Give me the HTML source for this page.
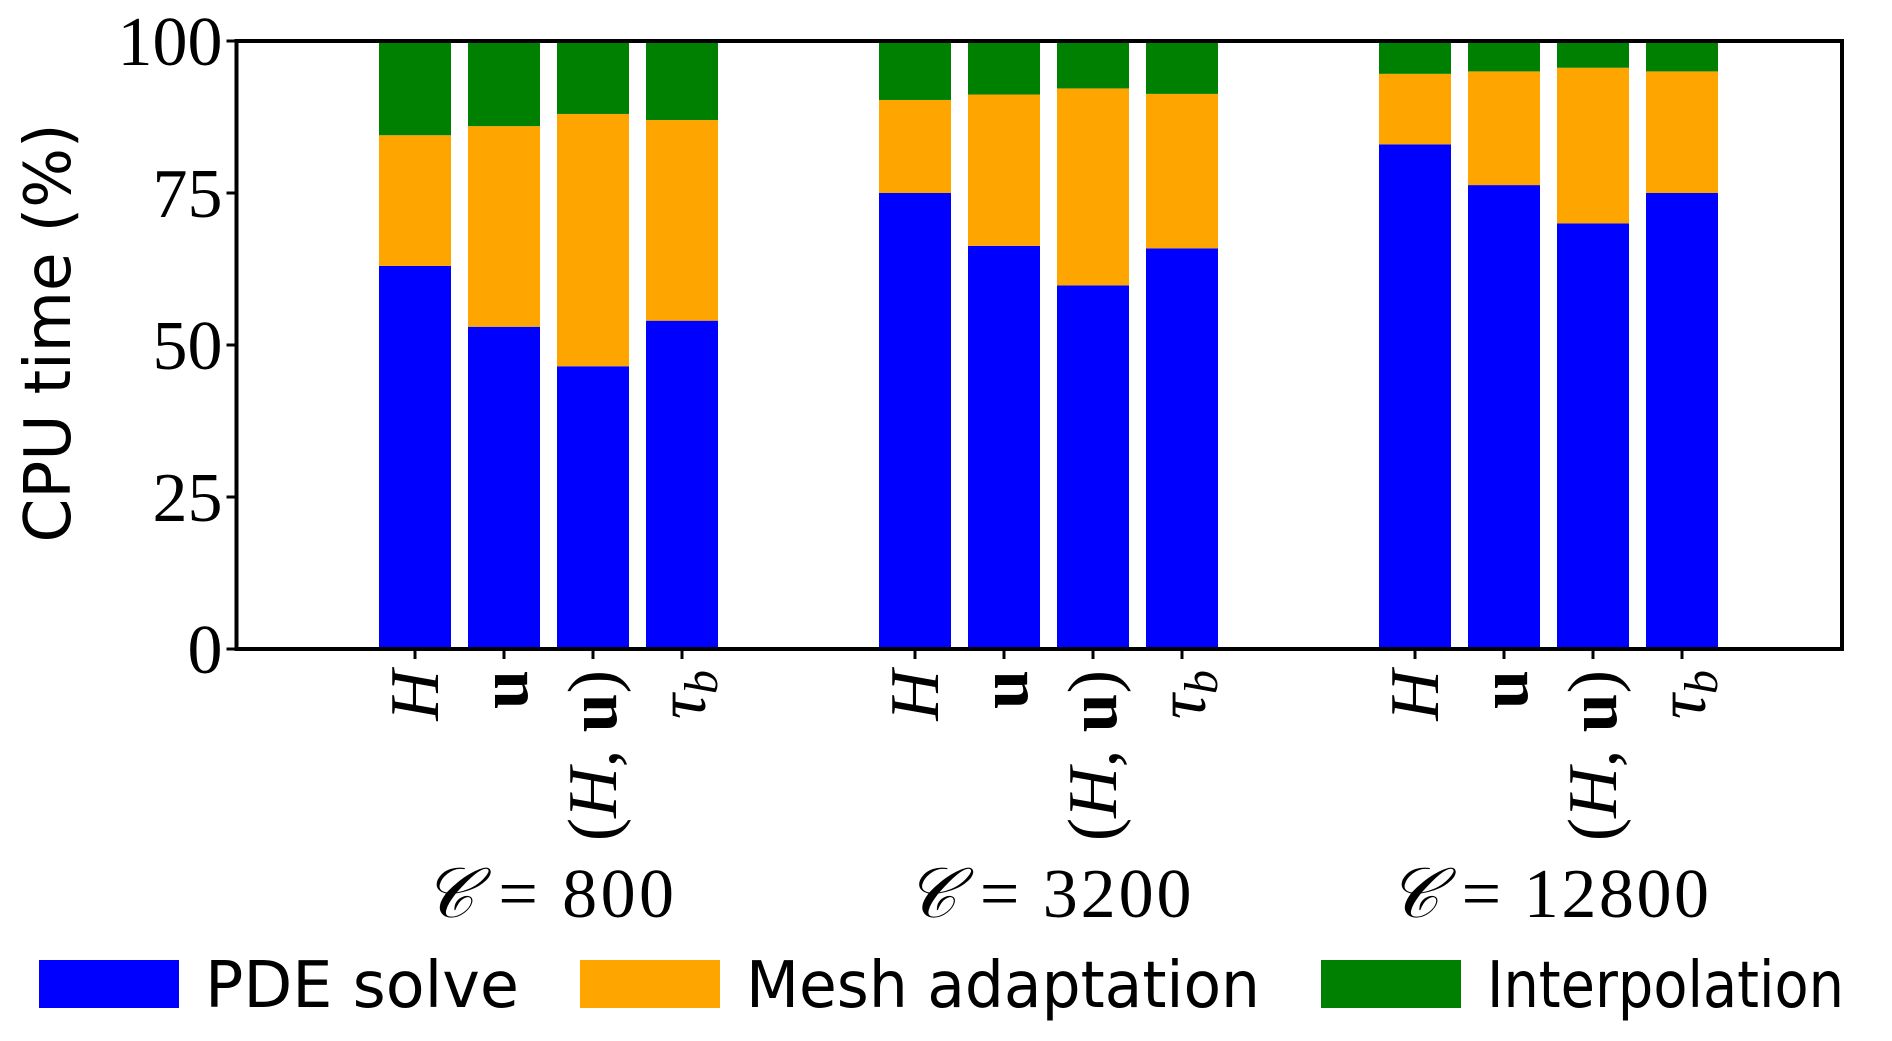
<!DOCTYPE html>
<html><head><meta charset="utf-8">
<style>html,body{margin:0;padding:0;background:#fff;}svg{display:block;}</style>
</head><body>
<svg id="chart" width="1892" height="1041" viewBox="0 0 1892 1041" xmlns="http://www.w3.org/2000/svg">
<rect width="1892" height="1041" fill="#fff"/>
<g id="bars"></g>
<g id="axes"></g>
<text transform="translate(70,333) rotate(-90)" text-anchor="middle" font-family="DejaVu Sans, Liberation Sans, sans-serif" font-size="64" textLength="419" lengthAdjust="spacingAndGlyphs">CPU time (%)</text>
<g id="legend"></g>
</svg>
<script>
const groups = ["800", "3200", "12800"];
const methods = ["H", "u", "(H,u)", "tau_b"];
const pdeSolve = [63, 53, 46.5, 54, 75, 66.3, 59.8, 65.9, 83, 76.3, 70, 75];
const meshAdapt = [21.5, 33, 41.5, 33, 15.3, 24.9, 32.4, 25.4, 11.6, 18.7, 25.6, 20];
const interp = [15.5, 14, 12, 13, 9.7, 8.8, 7.8, 8.7, 5.4, 5, 4.4, 5];
const yTicks = [0, 25, 50, 75, 100];

const NS = "http://www.w3.org/2000/svg";
const L = 236.5, R = 1842, T = 41, B = 649;
function y(v){ return B - (B - T) * v / 100; }
function xc(g, i){ return 415 + 89 * i + 500 * g; }
const bw = 72;
function mk(tag, attrs, parent){ const e = document.createElementNS(NS, tag); for (const k in attrs) e.setAttribute(k, attrs[k]); parent.appendChild(e); return e; }

const barsG = document.getElementById('bars');
const colors = ["#0000ff", "#ffa500", "#008000"];
const seriesNames = ["pde-solve", "mesh-adaptation", "interpolation"];
const series = [pdeSolve, meshAdapt, interp];
groups.forEach((g, gi) => {
  methods.forEach((m, mi) => {
    const idx = gi * 4 + mi;
    let base = 0;
    series.forEach((s, si) => {
      const v = s[idx];
      const r = mk('rect', {x: xc(gi, mi) - bw / 2, y: y(base + v), width: bw, height: y(base) - y(base + v), fill: colors[si]}, barsG);
      
      
      base += v;
    });
  });
});

const ax = document.getElementById('axes');
const frame = mk('rect', {x: L, y: T, width: R - L, height: B - T, fill: 'none', stroke: '#000', 'stroke-width': 4}, ax);


yTicks.forEach(t => {
  const tk = mk('line', {x1: L - 10, x2: L, y1: y(t), y2: y(t), stroke: '#000', 'stroke-width': 3}, ax);
  
  
  const lb = mk('text', {x: L - 14, y: y(t) + 24, 'text-anchor': 'end', 'font-family': 'Liberation Serif, serif', 'font-size': 70}, ax);
  lb.textContent = t;
  
  
});
groups.forEach((g, gi) => {
  methods.forEach((m, mi) => {
    const x = xc(gi, mi);
    const tk = mk('line', {x1: x, x2: x, y1: B, y2: B + 10, stroke: '#000', 'stroke-width': 3}, ax);
    
    
    const lb = mk('text', {transform: 'translate(' + (x + 23) + ',670) rotate(-90)', 'text-anchor': 'end', 'font-family': 'Liberation Serif, serif', 'font-size': 70}, ax);
    if (m === 'H') lb.innerHTML = '<tspan font-style="italic">H</tspan>';
    else if (m === 'u') lb.innerHTML = '<tspan font-weight="bold">u</tspan>';
    else if (m === '(H,u)') lb.innerHTML = '(<tspan font-style="italic">H</tspan>, <tspan font-weight="bold">u</tspan>)';
    else lb.innerHTML = '<tspan font-style="italic">τ</tspan><tspan font-style="italic" font-size="48" dy="12">b</tspan>';
    
    
  });
  const gl = mk('text', {x: (xc(gi, 0) + xc(gi, 3)) / 2, y: 917, 'text-anchor': 'middle', 'font-family': 'Liberation Serif, serif', 'font-size': 70, textLength: 251 + (g.length - 3) * 35, lengthAdjust: 'spacing'}, ax);
  gl.innerHTML = '<tspan font-style="italic">𝒞</tspan>  =  ' + g;
  
  
});

const lg = document.getElementById('legend');
const legendNames = ["PDE solve", "Mesh adaptation", "Interpolation"];
const legendX = [39, 580, 1321];
const legendW = [314, 514, 357];
legendNames.forEach((n, i) => {
  const r = mk('rect', {x: legendX[i], y: 960, width: 140, height: 48, fill: colors[i]}, lg);
  
  
  const t = mk('text', {x: legendX[i] + 166, y: 1007, 'font-family': 'DejaVu Sans, Liberation Sans, sans-serif', 'font-size': 64, textLength: legendW[i], lengthAdjust: 'spacingAndGlyphs'}, lg);
  t.textContent = n;
  
  
});
</script>
</body></html>
